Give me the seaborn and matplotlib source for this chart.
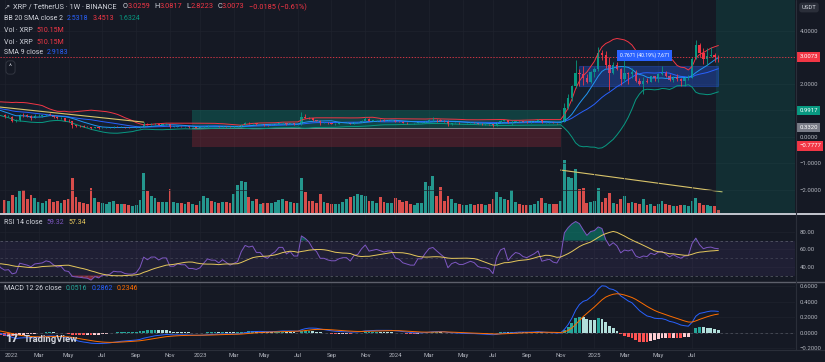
import matplotlib

matplotlib.use("Agg")
import matplotlib.pyplot as plt
import numpy as np
import pandas as pd
import seaborn as sns
from matplotlib.lines import Line2D
from matplotlib.ticker import FixedLocator, FuncFormatter

# --- data: XRP/USDT weekly candles, Jan 2022 -> Aug 2025 -------------------

# closes of the 30 weeks before the first drawn candle (only used to warm up indicators)
WARMUP_CLOSE = [0.93, 0.86, 0.66, 0.70, 0.65, 0.60, 0.60, 0.75, 0.73, 1.15,
                1.25, 1.17, 1.28, 1.08, 1.03, 0.95, 1.07, 1.12, 1.10, 1.07,
                1.10, 1.22, 1.16, 1.07, 1.02, 0.85, 0.80, 0.96, 0.96, 0.83]

CLOSE_2022 = [0.75, 0.76, 0.60, 0.62, 0.83, 0.80, 0.77, 0.72, 0.78, 0.79, 0.80, 0.84, 0.82,
              0.75, 0.70, 0.71, 0.60, 0.58, 0.43, 0.41, 0.40, 0.38, 0.37, 0.31, 0.35, 0.31,
              0.34, 0.34, 0.35, 0.38, 0.37, 0.37, 0.34, 0.33, 0.33, 0.34, 0.38, 0.48, 0.45,
              0.48, 0.48, 0.45, 0.47, 0.47, 0.38, 0.38, 0.40, 0.39, 0.39, 0.35, 0.35, 0.34]
HIGH_2022 = [0.85, 0.80, 0.79, 0.65, 0.85, 0.91, 0.87, 0.80, 0.84, 0.84, 0.82, 0.87, 0.91,
             0.83, 0.77, 0.73, 0.72, 0.65, 0.61, 0.44, 0.43, 0.43, 0.41, 0.37, 0.36, 0.36,
             0.35, 0.35, 0.38, 0.39, 0.39, 0.39, 0.38, 0.35, 0.34, 0.35, 0.39, 0.56, 0.53,
             0.53, 0.51, 0.49, 0.48, 0.51, 0.49, 0.40, 0.41, 0.42, 0.40, 0.40, 0.36, 0.36]
LOW_2022 = [0.72, 0.73, 0.57, 0.55, 0.58, 0.76, 0.74, 0.62, 0.70, 0.73, 0.74, 0.78, 0.80,
            0.72, 0.67, 0.67, 0.59, 0.56, 0.33, 0.38, 0.37, 0.37, 0.36, 0.29, 0.31, 0.30,
            0.31, 0.31, 0.33, 0.32, 0.36, 0.36, 0.33, 0.32, 0.32, 0.32, 0.33, 0.37, 0.43,
            0.45, 0.44, 0.44, 0.44, 0.45, 0.31, 0.36, 0.36, 0.38, 0.37, 0.34, 0.33, 0.33]
VOL_2022 = [2210, 2040, 3060, 2720, 3740, 3910, 2380, 3060, 2550, 1870, 1700, 2040, 2380,
            1870, 2040, 1700, 2210, 2380, 5950, 2720, 1870, 1700, 1530, 4250, 2550, 1870,
            1700, 1530, 1870, 2040, 1530, 1530, 1530, 1360, 1190, 1360, 2210, 6800, 3740,
            2890, 2550, 1870, 1870, 1870, 4080, 1870, 1700, 1700, 1530, 1870, 1530, 1360]

CLOSE_2023 = [0.35, 0.38, 0.41, 0.40, 0.40, 0.38, 0.40, 0.38, 0.36, 0.37, 0.38, 0.45, 0.51,
              0.50, 0.51, 0.47, 0.47, 0.44, 0.43, 0.46, 0.48, 0.52, 0.52, 0.48, 0.50, 0.47,
              0.47, 0.74, 0.72, 0.69, 0.63, 0.60, 0.52, 0.52, 0.50, 0.49, 0.49, 0.51, 0.52,
              0.52, 0.49, 0.54, 0.55, 0.61, 0.66, 0.61, 0.62, 0.63, 0.62, 0.61, 0.62, 0.62]
HIGH_2023 = [0.36, 0.39, 0.43, 0.42, 0.42, 0.41, 0.41, 0.42, 0.39, 0.39, 0.40, 0.49, 0.55,
             0.54, 0.53, 0.53, 0.48, 0.48, 0.46, 0.47, 0.49, 0.54, 0.55, 0.53, 0.52, 0.50,
             0.49, 0.93, 0.87, 0.75, 0.72, 0.64, 0.62, 0.55, 0.54, 0.51, 0.50, 0.52, 0.53,
             0.55, 0.53, 0.55, 0.56, 0.64, 0.74, 0.70, 0.63, 0.64, 0.66, 0.65, 0.64, 0.64]
LOW_2023 = [0.33, 0.34, 0.37, 0.39, 0.39, 0.37, 0.36, 0.37, 0.35, 0.34, 0.35, 0.37, 0.43,
            0.48, 0.49, 0.45, 0.45, 0.42, 0.41, 0.43, 0.45, 0.47, 0.49, 0.46, 0.47, 0.46,
            0.45, 0.46, 0.69, 0.66, 0.61, 0.59, 0.43, 0.50, 0.49, 0.47, 0.46, 0.49, 0.50,
            0.51, 0.47, 0.48, 0.53, 0.55, 0.61, 0.59, 0.58, 0.59, 0.60, 0.59, 0.58, 0.60]
VOL_2023 = [2040, 2890, 2550, 2040, 1870, 1700, 1870, 1870, 1700, 3230, 4760, 5440, 5270,
            2720, 2040, 2380, 1530, 1700, 1700, 1700, 1870, 2210, 2380, 2040, 1870, 1700,
            1700, 5950, 3570, 2040, 2040, 1700, 3230, 1870, 1700, 1530, 1530, 1530, 1870,
            2380, 2720, 2890, 3230, 3060, 2890, 2040, 2040, 1700, 2720, 1870, 1700, 1700]

CLOSE_2024 = [0.57, 0.56, 0.53, 0.52, 0.51, 0.51, 0.55, 0.55, 0.59, 0.63, 0.64, 0.62, 0.60,
              0.58, 0.49, 0.52, 0.53, 0.51, 0.51, 0.52, 0.53, 0.52, 0.49, 0.48, 0.48, 0.47,
              0.43, 0.53, 0.60, 0.62, 0.51, 0.56, 0.60, 0.59, 0.56, 0.55, 0.57, 0.59, 0.62,
              0.52, 0.53, 0.54, 0.51, 0.50, 0.56, 1.10, 1.45, 1.90, 2.40, 2.35, 2.20, 2.05,
              2.45]
HIGH_2024 = [0.63, 0.60, 0.58, 0.54, 0.52, 0.52, 0.57, 0.57, 0.61, 0.67, 0.74, 0.65, 0.67,
             0.62, 0.62, 0.53, 0.56, 0.54, 0.52, 0.53, 0.55, 0.54, 0.53, 0.50, 0.50, 0.49,
             0.48, 0.55, 0.64, 0.63, 0.64, 0.64, 0.61, 0.61, 0.60, 0.58, 0.58, 0.60, 0.66,
             0.64, 0.54, 0.56, 0.55, 0.53, 0.63, 1.27, 1.63, 1.95, 2.90, 2.55, 2.68, 2.35,
             2.48]
LOW_2024 = [0.55, 0.54, 0.52, 0.49, 0.50, 0.49, 0.50, 0.52, 0.53, 0.56, 0.60, 0.56, 0.59,
            0.56, 0.42, 0.46, 0.51, 0.48, 0.50, 0.47, 0.51, 0.51, 0.48, 0.46, 0.46, 0.46,
            0.38, 0.42, 0.53, 0.58, 0.50, 0.43, 0.54, 0.57, 0.55, 0.53, 0.53, 0.57, 0.58,
            0.50, 0.51, 0.52, 0.50, 0.49, 0.50, 0.56, 1.05, 1.33, 1.85, 1.90, 1.96, 2.03,
            2.03]
VOL_2024 = [2550, 2210, 1870, 2040, 1530, 1360, 1700, 1700, 5270, 4590, 6290, 2890, 4420,
            2040, 2890, 2380, 1700, 1530, 1360, 1360, 1530, 1360, 1530, 1530, 1360, 1530,
            2380, 3570, 2720, 2380, 2210, 3910, 1870, 1530, 1360, 1360, 1360, 1530, 2040,
            2550, 1700, 1530, 1530, 1530, 2040, 9010, 6120, 5950, 7480, 4080, 4250, 1700,
            1870]

CLOSE_2025 = [2.57, 3.15, 3.10, 2.70, 2.42, 2.70, 2.55, 2.18, 2.40, 2.35, 2.45, 2.10, 2.00,
              2.10, 2.07, 2.28, 2.20, 2.35, 2.40, 2.28, 2.15, 2.26, 2.17, 2.10, 2.20, 2.22,
              2.93, 3.45, 3.15, 2.95, 3.05, 3.08, 3.0259, 3.0073]
HIGH_2025 = [2.63, 3.40, 3.28, 3.25, 3.02, 2.80, 2.82, 2.60, 3.00, 2.45, 2.59, 2.50, 2.22,
             2.25, 2.20, 2.30, 2.30, 2.42, 2.65, 2.48, 2.35, 2.30, 2.35, 2.22, 2.25, 2.33,
             3.00, 3.66, 3.55, 3.33, 3.33, 3.38, 3.15, 3.0817]
LOW_2025 = [2.25, 2.48, 2.90, 2.60, 1.77, 2.35, 2.50, 1.95, 2.08, 2.00, 2.23, 2.05, 1.95,
            1.61, 2.03, 2.05, 2.12, 2.08, 2.33, 2.27, 2.10, 2.07, 2.12, 1.90, 1.91, 2.14,
            2.20, 2.92, 3.00, 2.75, 2.72, 3.00, 2.80, 2.8223]
VOL_2025 = [2040, 4250, 1870, 2550, 3400, 1700, 1530, 2380, 2890, 1700, 1870, 1700, 1530,
            2380, 1360, 1530, 1190, 1530, 2040, 1530, 1360, 1190, 1190, 1360, 1360, 1190,
            2040, 2550, 1700, 1360, 1360, 1190, 1190, 510.15]

FIRST_WEEK = "2022-01-03"

# chart drawings (bar index / price)
LONG_X = [49.8, 148.0]
LONG_TARGET, LONG_ENTRY, LONG_STOP = 0.9917, 0.3320, -0.40
RANGE_X = [152.9, 189.9]
RANGE_LOW, RANGE_HIGH = 1.9088, 2.6759
RANGE_LABEL = "0.7671 (40.19%) 7,671"
FUTURE_X0 = 189.4
PRICE_TREND_X, PRICE_TREND_Y = [-2.0, 37.0], [1.13, 0.55]
VOL_TREND_X, VOL_TREND_Y = [148.0, 191.0], [7300, 3600]

# --- style -----------------------------------------------------------------
W, H = 825, 362
BG = "#151924"
TXT = "#d1d4dc"
AX_TXT = "#b2b5be"
GRID = "#1f232e"
UP, DOWN = "#089981", "#f23645"
VOL_UP, VOL_DOWN = "#26a69a", "#ef5350"
BLUE, SMA_BLUE = "#2962ff", "#2196f3"
PURPLE, YELLOW, ORANGE = "#7e57c2", "#e6c85c", "#ff6d00"

sns.set_theme(style="dark", rc={"axes.facecolor": BG, "figure.facecolor": BG,
                                "text.color": TXT, "axes.edgecolor": BG})
plt.rcParams["font.family"] = ["Roboto", "DejaVu Sans"]

close = np.array(CLOSE_2022 + CLOSE_2023 + CLOSE_2024 + CLOSE_2025)
high = np.array(HIGH_2022 + HIGH_2023 + HIGH_2024 + HIGH_2025)
low = np.array(LOW_2022 + LOW_2023 + LOW_2024 + LOW_2025)
volume = np.array(VOL_2022 + VOL_2023 + VOL_2024 + VOL_2025)
opens = np.r_[WARMUP_CLOSE[-1], close[:-1]]
n = len(close)
x = np.arange(n)

# --- indicators (computed from the closes like TradingView does) -----------
s = pd.Series(WARMUP_CLOSE + list(close))
x_all = np.arange(-len(WARMUP_CLOSE), n)
basis = s.rolling(20).mean()
dev = 2 * s.rolling(20).std(ddof=0)
upper, lower = basis + dev, basis - dev
sma9 = s.rolling(9).mean()

delta = s.diff()
gain = delta.clip(lower=0).ewm(alpha=1 / 14, adjust=False).mean()
loss = (-delta.clip(upper=0)).ewm(alpha=1 / 14, adjust=False).mean()
rsi = 100 - 100 / (1 + gain / loss)
rsi_ma = rsi.rolling(14).mean()

macd = s.ewm(span=12, adjust=False).mean() - s.ewm(span=26, adjust=False).mean()
signal = macd.ewm(span=9, adjust=False).mean()
hist = (macd - signal).to_numpy()
prev = np.r_[np.nan, hist[:-1]]
hist_colors = np.where(hist >= 0, np.where(hist > prev, "#26a69a", "#b2dfdb"),
                       np.where(hist < prev, "#ff5252", "#ffcdd2"))

# --- layout (pixel boxes) --------------------------------------------------
def box(l, t, r, b):
    return [l / W, 1 - b / H, (r - l) / W, (b - t) / H]


fig = plt.figure(figsize=(W / 100, H / 100), dpi=100)
ax_vol = fig.add_axes(box(0, 0, 795, 213))
ax_main = fig.add_axes(box(0, 0, 795, 213), sharex=ax_vol)
ax_main.patch.set_visible(False)
ax_rsi = fig.add_axes(box(0, 215, 795, 281), sharex=ax_vol)
ax_macd = fig.add_axes(box(0, 282, 795, 349), sharex=ax_vol)

dates = pd.date_range(FIRST_WEEK, periods=n, freq="7D")
tick_pos, tick_lab, seen = [], [], set()
for i, d in enumerate(dates):
    if (d.year, d.month) in seen:
        continue
    seen.add((d.year, d.month))
    if d.month % 2 == 1:
        tick_pos.append(i)
        tick_lab.append(str(d.year) if d.month == 1 else d.strftime("%b"))

for ax in (ax_vol, ax_main, ax_rsi, ax_macd):
    for sp in ax.spines.values():
        sp.set_visible(False)
    ax.set_xlim(-1.25, 210.4)
    ax.xaxis.set_major_locator(FixedLocator(tick_pos))
    ax.tick_params(length=0, labelsize=4.3, colors=AX_TXT, labelbottom=False)
    ax.yaxis.tick_right()
    ax.tick_params(axis="y", pad=3.5)
for ax in (ax_main, ax_rsi, ax_macd):
    ax.grid(True, color=GRID, lw=0.5)
    ax.set_axisbelow(True)
ax_vol.grid(False)
ax_vol.set_yticks([])

# --- volume ------------------------------------------------------------------
vol_colors = np.where(close >= opens, VOL_UP, VOL_DOWN)
ax_vol.bar(x, volume, width=0.75, color=vol_colors, alpha=0.9, lw=0)
ax_vol.plot(VOL_TREND_X, VOL_TREND_Y, color="#d9c46a", lw=0.8)
ax_vol.set_ylim(0, 36210)

# --- price pane --------------------------------------------------------------
ax_main.set_ylim(-2.879, 5.158)
ax_main.yaxis.set_major_locator(FixedLocator([-2, -1, 0, 1, 2, 3, 4]))
ax_main.yaxis.set_major_formatter(FuncFormatter(
    lambda v, _: "" if round(v) in (1, 3) else f"{v:.4f}".replace("-", "\u2212")))

ax_main.axvspan(FUTURE_X0, 215, color=UP, alpha=0.17, lw=0)
ax_main.fill_between(LONG_X, LONG_ENTRY, LONG_TARGET, color=UP, alpha=0.3, lw=0)
ax_main.fill_between(LONG_X, LONG_STOP, LONG_ENTRY, color=DOWN, alpha=0.2, lw=0)
ax_main.plot(LONG_X, [LONG_ENTRY, LONG_ENTRY], color="#9598a1", lw=0.6)

ax_main.fill_between(x_all, lower, upper, color=SMA_BLUE, alpha=0.05, lw=0)
sns.lineplot(x=x_all, y=upper, ax=ax_main, color=DOWN, lw=0.7)
sns.lineplot(x=x_all, y=lower, ax=ax_main, color=UP, lw=0.7)
sns.lineplot(x=x_all, y=basis, ax=ax_main, color=BLUE, lw=0.7)
sns.lineplot(x=x_all, y=sma9, ax=ax_main, color=SMA_BLUE, lw=0.7)
ax_main.plot(PRICE_TREND_X, PRICE_TREND_Y, color="#d9c46a", lw=0.8)

cand_colors = np.where(close >= opens, UP, DOWN)
ax_main.vlines(x, low, high, colors=cand_colors, lw=0.6)
ax_main.bar(x, np.maximum(np.abs(close - opens), 0.006), bottom=np.minimum(opens, close),
            width=0.62, color=cand_colors, lw=0)

ax_main.fill_between(RANGE_X, RANGE_LOW, RANGE_HIGH, color=BLUE, alpha=0.3,
                     edgecolor=BLUE, lw=0.8)
ax_main.text(np.mean(RANGE_X) - 1.0, RANGE_HIGH + 0.4, RANGE_LABEL, fontsize=3.6,
             color="white", ha="center", va="center",
             bbox=dict(boxstyle="square,pad=0.5", fc=BLUE, ec="none"))

last = close[-1]
ax_main.axhline(last, color=DOWN, lw=0.6, ls=(0, (1.5, 2)))
ax_main.set_xlabel("")
ax_main.set_ylabel("")

# price tags on the right scale
yt = ax_main.get_yaxis_transform()
for val, txt, fc in [(last, f"{last:.4f}", DOWN), (LONG_TARGET, "0.9917", UP),
                     (LONG_ENTRY, "0.3320", "#787b86"), (-0.35, "\u22120.7777", DOWN)]:
    ax_main.text(1.0055, val, txt, transform=yt, fontsize=4.3, color="white",
                 ha="left", va="center", clip_on=False,
                 bbox=dict(boxstyle="square,pad=0.35", fc=fc, ec="none"))

# --- RSI ---------------------------------------------------------------------
ax_rsi.set_ylim(23.8, 99.3)
ax_rsi.yaxis.set_major_locator(FixedLocator([40, 60, 80]))
ax_rsi.yaxis.set_major_formatter(FuncFormatter(lambda v, _: f"{v:.2f}"))
ax_rsi.axhspan(30, 70, color=PURPLE, alpha=0.1, lw=0)
for lvl, a in ((70, 0.6), (50, 0.35), (30, 0.6)):
    ax_rsi.axhline(lvl, color="#787b86", lw=0.6, ls=(0, (3, 3)), alpha=a)
ax_rsi.fill_between(x_all, 70, rsi, where=rsi >= 70, interpolate=True, color=UP, alpha=0.5, lw=0)
ax_rsi.fill_between(x_all, 30, rsi, where=rsi <= 30, interpolate=True, color=DOWN, alpha=0.5, lw=0)
sns.lineplot(x=x_all, y=rsi, ax=ax_rsi, color=PURPLE, lw=0.7)
sns.lineplot(x=x_all, y=rsi_ma, ax=ax_rsi, color=YELLOW, lw=0.7)
ax_rsi.set_xlabel("")
ax_rsi.set_ylabel("")

# --- MACD --------------------------------------------------------------------
ax_macd.set_ylim(-0.212, 0.658)
ax_macd.yaxis.set_major_locator(FixedLocator([-0.2, 0, 0.2, 0.4, 0.6]))
ax_macd.yaxis.set_major_formatter(FuncFormatter(
    lambda v, _: f"{v:.4f}".replace("-", "\u2212")))
ax_macd.axhline(0, color="#787b86", lw=0.6, ls=(0, (3, 3)), alpha=0.5)
ax_macd.bar(x_all, hist, width=0.75, color=hist_colors, lw=0)
sns.lineplot(x=x_all, y=macd, ax=ax_macd, color=BLUE, lw=0.7)
sns.lineplot(x=x_all, y=signal, ax=ax_macd, color=ORANGE, lw=0.7)
ax_macd.set_xticks(tick_pos)
ax_macd.set_xticklabels(tick_lab)
ax_macd.tick_params(axis="x", labelbottom=True, pad=3)
ax_macd.get_xticklabels()[0].set_horizontalalignment("left")
ax_macd.set_xlabel("")
ax_macd.set_ylabel("")

# --- separators ---------------------------------------------------------------
def hline(y, color, lw):
    fig.add_artist(Line2D([0, 1], [1 - y / H] * 2, color=color, lw=lw, transform=fig.transFigure))


hline(213.7, "#d1d4dc", 1.3)
hline(281.5, "#5d606b", 1.0)
hline(349.5, "#2a2e39", 0.8)
fig.add_artist(Line2D([795.5 / W] * 2, [1 - 349.5 / H, 1], color="#2a2e39", lw=0.8,
                      transform=fig.transFigure))

# --- legend rows ---------------------------------------------------------------
renderer = fig.canvas.get_renderer()


def text_row(x0, y, parts, size=5.3):
    xp = x0
    for txt, color, gap in parts:
        t = fig.text(xp / W, 1 - y / H, txt, color=color, fontsize=size, ha="left", va="center")
        xp += t.get_window_extent(renderer=renderer).width + gap


text_row(4, 7, [("\u2197", AX_TXT, 3), ("XRP / TetherUS \u00b7 1W \u00b7 BINANCE", TXT, 6),
                ("O", TXT, 0), ("3.0259", DOWN, 4), ("H", TXT, 0), ("3.0817", DOWN, 4),
                ("L", TXT, 0), ("2.8223", DOWN, 4), ("C", TXT, 0), ("3.0073", DOWN, 4),
                ("\u22120.0185 (\u22120.61%)", DOWN, 0)])
text_row(4, 19, [("BB 20 SMA close 2", TXT, 4), ("2.5318", BLUE, 4), ("3.4513", DOWN, 4),
                 ("1.6324", UP, 0)], size=5.0)
text_row(4, 31, [("Vol \u00b7 XRP", TXT, 4), ("510.15M", DOWN, 0)], size=5.0)
text_row(4, 42.5, [("Vol \u00b7 XRP", TXT, 4), ("510.15M", DOWN, 0)], size=5.0)
text_row(4, 53, [("SMA 9 close", TXT, 4), ("2.9183", BLUE, 0)], size=5.0)
fig.text(10.5 / W, 1 - 67.5 / H, "^", fontsize=5, color=TXT, ha="center", va="center",
         bbox=dict(boxstyle="round,pad=0.45", fc=BG, ec="#363a45", lw=0.6))
text_row(4, 223, [("RSI 14 close", TXT, 4), ("59.32", PURPLE, 4), ("57.34", YELLOW, 0)], size=5.0)
text_row(4, 288, [("MACD 12 26 close", TXT, 4), ("0.0516", "#26a69a", 4), ("0.2862", BLUE, 4),
                  ("0.2346", ORANGE, 0)], size=5.0)

# TradingView mark and currency box
fig.text(5 / W, 1 - 339 / H, "17", fontsize=8, fontweight="heavy", color=TXT, va="center")
fig.text(24 / W, 1 - 339 / H, "TradingView", fontsize=6.8, fontweight="bold", color=TXT,
         va="center")
fig.text(809 / W, 1 - 7.5 / H, "USDT", fontsize=4.3, color=TXT, ha="center", va="center",
         bbox=dict(boxstyle="round,pad=0.4", fc="#2a2e39", ec="none"))

fig.savefig("out.png", dpi=100, facecolor=BG)
